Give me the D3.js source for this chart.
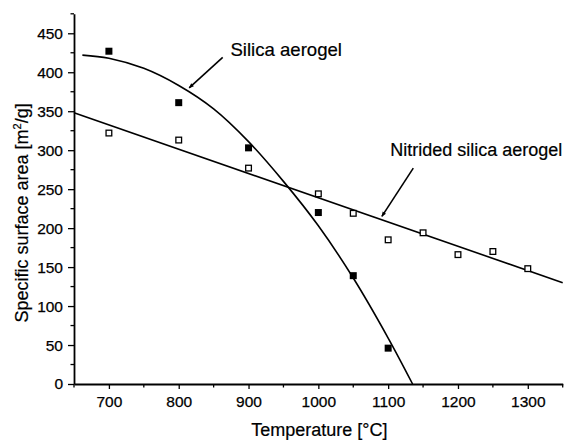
<!DOCTYPE html>
<html>
<head>
<meta charset="utf-8">
<script src="https://cdn.jsdelivr.net/npm/d3@7"></script>
<style>
  body { margin: 0; background: #fff; }
  svg { display: block; font-family: "Liberation Sans", Arial, sans-serif; }
</style>
</head>
<body>
<svg id="chart" width="569" height="442"></svg>
<script>
// ---- data ----
const temperatures = [700, 800, 900, 1000, 1050, 1100];
const silicaValues = [427, 361, 303, 220, 139, 46];

const nitridedTemps = [700, 800, 900, 1000, 1050, 1100, 1150, 1200, 1250, 1300];
const nitridedValues = [322, 313, 277, 244, 219, 185, 194, 166, 170, 148];

// fitted curves
const silicaFitX = [662, 700, 750, 800, 850, 900, 950, 1000, 1050, 1100, 1135];
const silicaFitY = [422, 418, 405, 383, 353, 311, 260, 203, 136, 59, 0];
const nitridedFitX = [650, 1350];
const nitridedFitY = [348, 130];

const xTicks = [700, 800, 900, 1000, 1100, 1200, 1300];
const yTicks = [0, 50, 100, 150, 200, 250, 300, 350, 400, 450];

const xTitle = "Temperature [°C]";
const silicaLabel = "Silica aerogel";
const nitridedLabel = "Nitrided silica aerogel";

// ---- layout ----
const svg = d3.select("#chart");
const x = d3.scaleLinear().domain([650, 1350]).range([74, 562.7]);
const y = d3.scaleLinear().domain([0, 475]).range([384, 13.8]);

const g = svg.append("g");

// minor ticks
const xMinor = d3.range(650, 1351, 50).filter(v => v % 100 !== 0);
const yMinor = d3.range(25, 476, 50);

// x axis
const xAxis = d3.axisBottom(x).tickValues(xTicks).tickFormat(d3.format("d"))
  .tickSize(5).tickSizeOuter(0).tickPadding(6);
const xg = g.append("g").attr("transform", `translate(0,${y(0)})`).call(xAxis);
xg.append("g").selectAll("line").data(xMinor).join("line")
  .attr("x1", d => x(d)).attr("x2", d => x(d)).attr("y1", 0).attr("y2", 3.5)
  .attr("stroke", "#000").attr("stroke-width", 1.3);

// y axis
const yAxis = d3.axisLeft(y).tickValues(yTicks).tickFormat(d3.format("d"))
  .tickSize(6).tickSizeOuter(0).tickPadding(5);
const yg = g.append("g").attr("transform", `translate(${x(650)},0)`).call(yAxis);
yg.append("g").selectAll("line").data(yMinor).join("line")
  .attr("x1", 0).attr("x2", -3.5).attr("y1", d => y(d)).attr("y2", d => y(d))
  .attr("stroke", "#000").attr("stroke-width", 1.3);

[xg, yg].forEach(a => {
  a.select(".domain").attr("stroke", "#000").attr("stroke-width", 1.8);
  a.selectAll(".tick line").attr("stroke", "#000").attr("stroke-width", 1.3);
  a.selectAll(".tick text").attr("fill", "#000").attr("font-size", 15.5)
    .attr("stroke", "#000").attr("stroke-width", 0.25)
    .attr("font-family", "Liberation Sans, Arial, sans-serif");
});
xg.selectAll(".tick text").attr("dy", "0.71em").attr("y", 12);

// axis titles
g.append("text")
  .attr("x", (x(650) + x(1350)) / 2 + 1)
  .attr("y", 436)
  .attr("text-anchor", "middle")
  .attr("font-size", 18)
  .attr("fill", "#000").attr("stroke", "#000").attr("stroke-width", 0.2)
  .text(xTitle);

const yt = g.append("text")
  .attr("transform", `translate(28,${(y(0) + y(475)) / 2 + 14}) rotate(-90)`)
  .attr("text-anchor", "middle")
  .attr("font-size", 18)
  .attr("fill", "#000").attr("stroke", "#000").attr("stroke-width", 0.2);
yt.append("tspan").text("Specific surface area [m");
yt.append("tspan").attr("dy", -7).attr("font-size", 11).text("2");
yt.append("tspan").attr("dy", 7).text("/g]");

// fitted lines
g.append("path")
  .attr("d", d3.line().curve(d3.curveCatmullRom).x(d => x(d[0])).y(d => y(d[1]))(silicaFitX.map((v, i) => [v, silicaFitY[i]])))
  .attr("fill", "none").attr("stroke", "#000").attr("stroke-width", 1.6);
g.append("path")
  .attr("d", d3.line().x(d => x(d[0])).y(d => y(d[1]))(nitridedFitX.map((v, i) => [v, nitridedFitY[i]])))
  .attr("fill", "none").attr("stroke", "#000").attr("stroke-width", 1.6);

// markers
const ms = 7;
g.append("g").selectAll("rect").data(temperatures.map((t, i) => [t, silicaValues[i]])).join("rect")
  .attr("x", d => x(d[0]) - ms / 2).attr("y", d => y(d[1]) - ms / 2)
  .attr("width", ms).attr("height", ms).attr("fill", "#000");
g.append("g").selectAll("rect").data(nitridedTemps.map((t, i) => [t, nitridedValues[i]])).join("rect")
  .attr("x", d => x(d[0]) - (ms - 1.3) / 2).attr("y", d => y(d[1]) - (ms - 1.3) / 2)
  .attr("width", ms - 1.3).attr("height", ms - 1.3)
  .attr("fill", "#fff").attr("stroke", "#000").attr("stroke-width", 1.3);

// annotations (in data units)
svg.append("defs").append("marker")
  .attr("id", "ah").attr("viewBox", "0 0 10 10").attr("refX", 9).attr("refY", 5)
  .attr("markerWidth", 9).attr("markerHeight", 5).attr("markerUnits", "userSpaceOnUse")
  .attr("orient", "auto")
  .append("path").attr("d", "M0,1 L10,5 L0,9 Z").attr("fill", "#000");

const arrows = [
  { from: [863, 419], to: [815, 380] },
  { from: [1136, 277], to: [1091, 215] }
];
g.append("g").selectAll("line").data(arrows).join("line")
  .attr("x1", d => x(d.from[0])).attr("y1", d => y(d.from[1]))
  .attr("x2", d => x(d.to[0])).attr("y2", d => y(d.to[1]))
  .attr("stroke", "#000").attr("stroke-width", 1.6).attr("marker-end", "url(#ah)");

g.append("text").attr("x", x(874)).attr("y", y(421)).attr("font-size", 18.6)
  .attr("fill", "#000").attr("stroke", "#000").attr("stroke-width", 0.2).text(silicaLabel);
g.append("text").attr("x", x(1103)).attr("y", y(292)).attr("font-size", 18)
  .attr("fill", "#000").attr("stroke", "#000").attr("stroke-width", 0.2).text(nitridedLabel);
</script>
</body>
</html>
